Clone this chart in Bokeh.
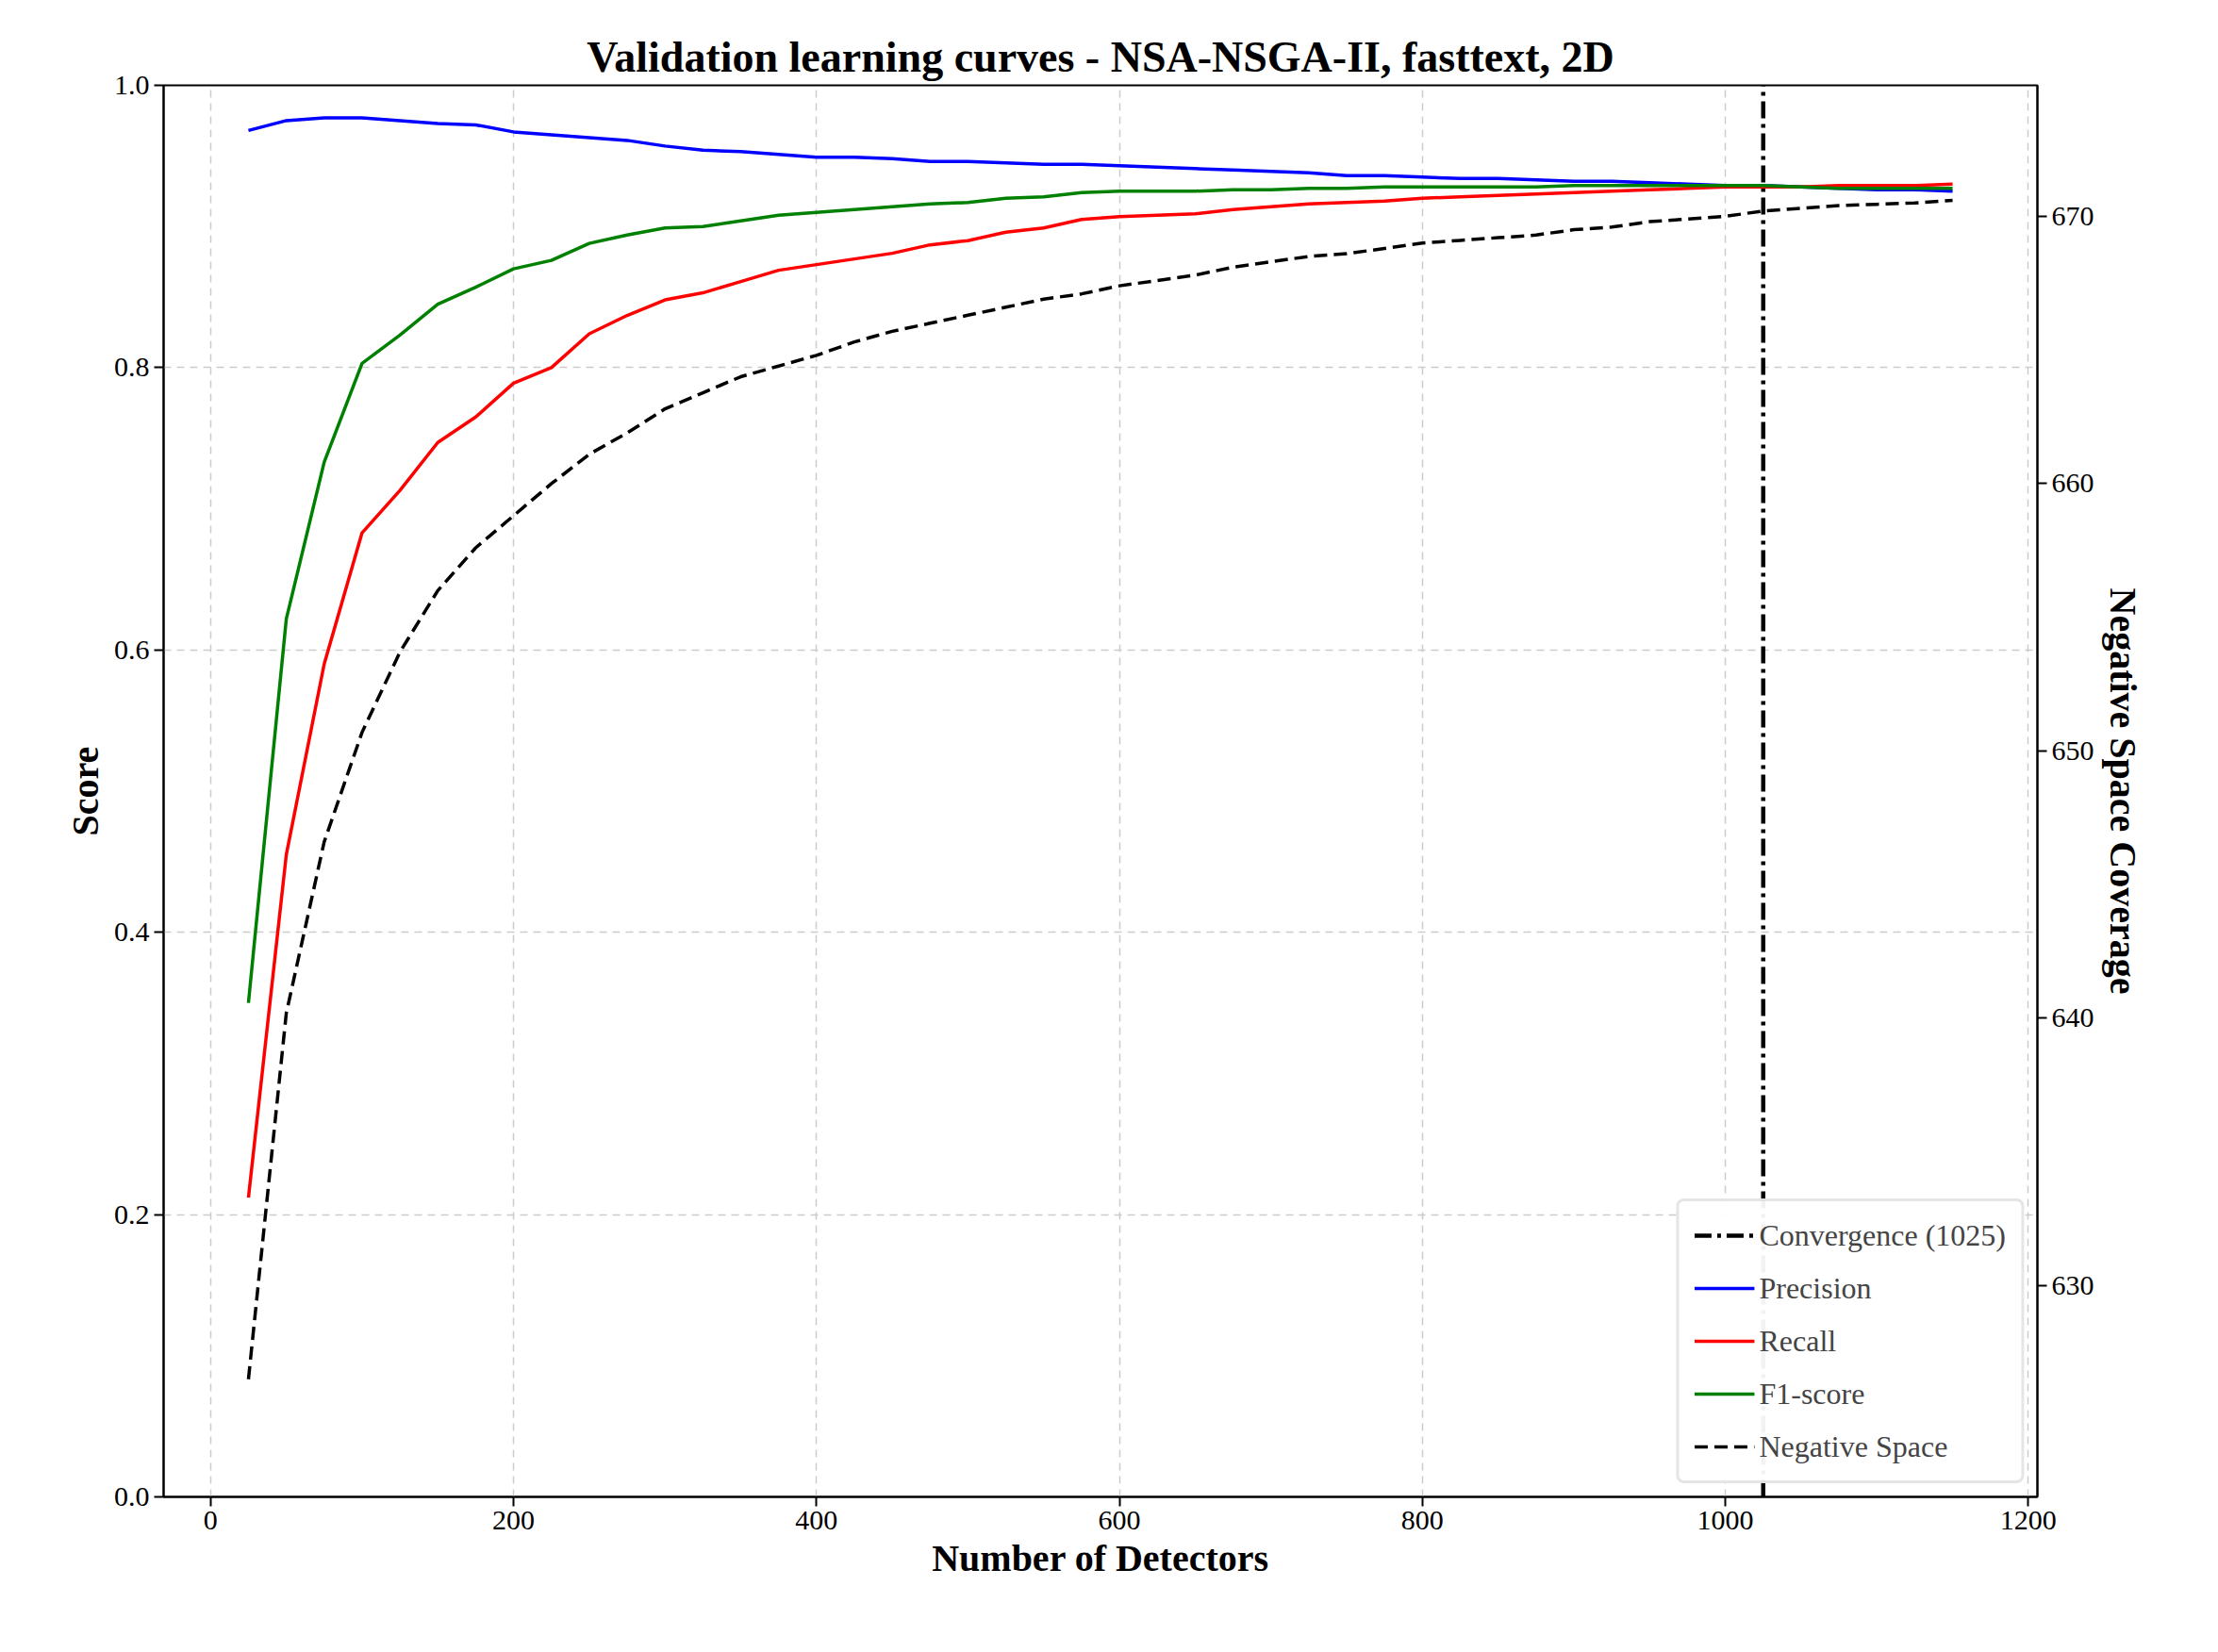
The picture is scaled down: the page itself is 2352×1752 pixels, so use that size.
from bokeh.plotting import figure
from bokeh.models import LinearAxis, Range1d, Legend, LegendItem, FixedTicker, PrintfTickFormatter
from bokeh.embed import file_html
from bokeh.resources import INLINE

detectors = list(range(25, 1151, 25))
precision = [0.968, 0.975, 0.977, 0.977, 0.975, 0.973, 0.972, 0.967, 0.965, 0.963,
             0.961, 0.957, 0.954, 0.953, 0.951, 0.949, 0.949, 0.948, 0.946, 0.946,
             0.945, 0.944, 0.944, 0.943, 0.942, 0.941, 0.940, 0.939, 0.938, 0.936,
             0.936, 0.935, 0.934, 0.934, 0.933, 0.932, 0.932, 0.931, 0.930, 0.929,
             0.929, 0.928, 0.927, 0.926, 0.926, 0.925]
recall = [0.212, 0.455, 0.590, 0.683, 0.713, 0.747, 0.765, 0.789, 0.800, 0.824,
          0.837, 0.848, 0.853, 0.861, 0.869, 0.873, 0.877, 0.881, 0.887, 0.890,
          0.896, 0.899, 0.905, 0.907, 0.908, 0.909, 0.912, 0.914, 0.916, 0.917,
          0.918, 0.920, 0.921, 0.922, 0.923, 0.924, 0.925, 0.926, 0.927, 0.928,
          0.928, 0.928, 0.929, 0.929, 0.929, 0.930]
f1 = [0.350, 0.622, 0.733, 0.803, 0.823, 0.845, 0.857, 0.870, 0.876, 0.888,
      0.894, 0.899, 0.900, 0.904, 0.908, 0.910, 0.912, 0.914, 0.916, 0.917,
      0.920, 0.921, 0.924, 0.925, 0.925, 0.925, 0.926, 0.926, 0.927, 0.927,
      0.928, 0.928, 0.928, 0.928, 0.928, 0.929, 0.929, 0.929, 0.929, 0.929,
      0.929, 0.928, 0.927, 0.927, 0.927, 0.927]
neg_space = [626.5, 640.2, 646.6, 650.7, 653.7, 656.0, 657.6, 658.8, 660.0, 661.1,
             661.9, 662.8, 663.4, 664.0, 664.4, 664.8, 665.3, 665.7, 666.0, 666.3,
             666.6, 666.9, 667.1, 667.4, 667.6, 667.8, 668.1, 668.3, 668.5, 668.6,
             668.8, 669.0, 669.1, 669.2, 669.3, 669.5, 669.6, 669.8, 669.9, 670.0,
             670.2, 670.3, 670.4, 670.45, 670.5, 670.6]
convergence = 1025

FONT = "Liberation Serif"

p = figure(width=2336, height=1736, output_backend="svg", toolbar_location=None,
           x_range=Range1d(-31, 1206), y_range=Range1d(0, 1.0),
           min_border_left=173, min_border_right=176, min_border_top=90, min_border_bottom=149,
           title="Validation learning curves - NSA-NSGA-II, fasttext, 2D")
p.extra_y_ranges = {"ns": Range1d(622.1, 674.9)}

p.title.text_font = FONT
p.title.text_font_size = "46px"
p.title.text_font_style = "bold"
p.title.text_color = "black"
p.title.align = "center"
p.outline_line_color = "black"
p.outline_line_width = 2

p.xaxis.axis_label = "Number of Detectors"
p.yaxis.axis_label = "Score"
p.xaxis.ticker = FixedTicker(ticks=[0, 200, 400, 600, 800, 1000, 1200])
p.yaxis.ticker = FixedTicker(ticks=[0, 0.2, 0.4, 0.6, 0.8, 1.0])
p.yaxis.formatter = PrintfTickFormatter(format="%.1f")

right = LinearAxis(y_range_name="ns", axis_label="Negative Space Coverage",
                   ticker=FixedTicker(ticks=[630, 640, 650, 660, 670]))
right.axis_label_orientation = "vertical"
p.add_layout(right, "right")

for ax in [p.xaxis[0], p.yaxis[0], right]:
    ax.axis_label_text_font = FONT
    ax.axis_label_text_font_style = "bold"
    ax.axis_label_text_font_size = "40px"
    ax.axis_label_text_color = "black"
    ax.major_label_text_font = FONT
    ax.major_label_text_font_size = "30px"
    ax.major_label_text_color = "black"
    ax.axis_line_color = "black"
    ax.axis_line_width = 2
    ax.major_tick_line_width = 2
    ax.major_tick_out = 10
    ax.major_tick_in = 0
    ax.minor_tick_line_color = None

p.grid.grid_line_color = "#cccccc"
p.grid.grid_line_dash = "8 6"
p.grid.grid_line_width = 1.5

vl = p.line([convergence, convergence], [0, 1], color="black", line_width=4.5, line_dash="18 6 4 6")
l1 = p.line(detectors, precision, color="blue", line_width=3.5)
l2 = p.line(detectors, recall, color="red", line_width=3.5)
l3 = p.line(detectors, f1, color="green", line_width=3.5)
l4 = p.line(detectors, neg_space, color="black", line_width=3.5, line_dash="14 7", y_range_name="ns")

legend = Legend(items=[
    LegendItem(label="Convergence (%d)" % convergence, renderers=[vl]),
    LegendItem(label="Precision", renderers=[l1]),
    LegendItem(label="Recall", renderers=[l2]),
    LegendItem(label="F1-score", renderers=[l3]),
    LegendItem(label="Negative Space", renderers=[l4]),
], location="bottom_right")
legend.label_text_font = FONT
legend.label_text_font_size = "32px"
legend.label_height = 40
legend.border_line_color = "#cccccc"
legend.border_line_width = 3
legend.border_radius = 8
legend.glyph_width = 64
legend.spacing = 16
legend.padding = 16
legend.margin = 14
p.add_layout(legend)

open("out.html", "w").write(file_html(p, INLINE))
